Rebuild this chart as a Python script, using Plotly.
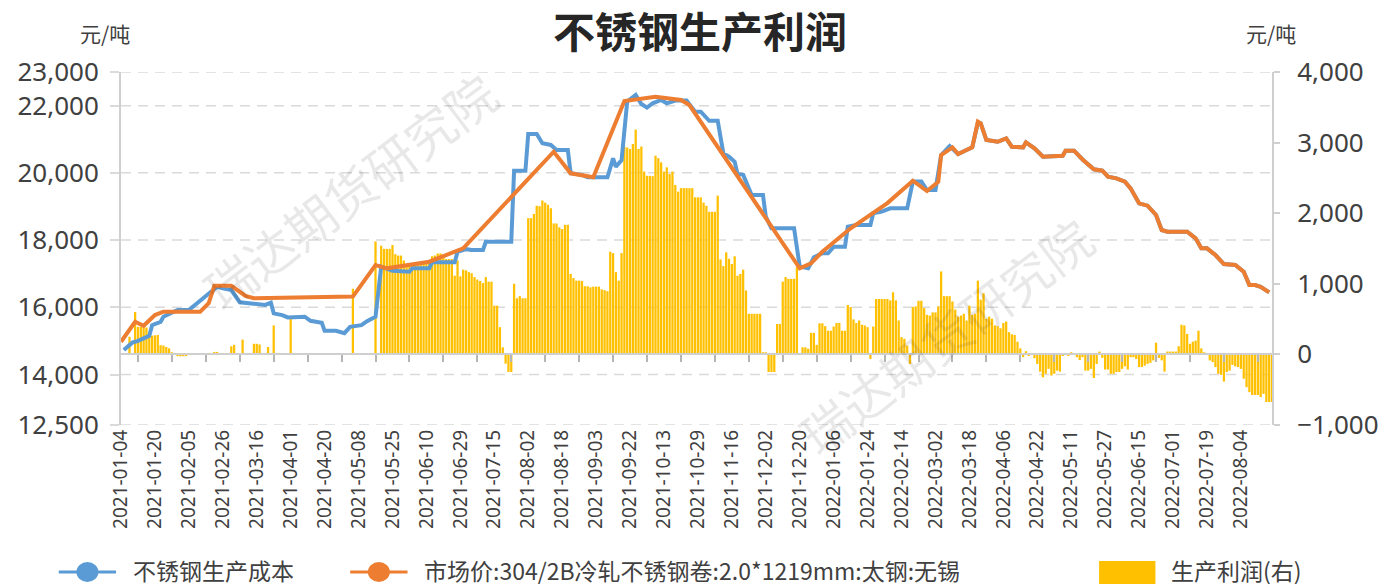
import plotly.graph_objects as go

# ---------------- data ----------------
N_CAT = 408  # trading-day categories, 2021-01-04 .. 2022-08
tick_labels = [
    "2021-01-04", "2021-01-20", "2021-02-05", "2021-02-26", "2021-03-16", "2021-04-01",
    "2021-04-20", "2021-05-08", "2021-05-25", "2021-06-10", "2021-06-29", "2021-07-15",
    "2021-08-02", "2021-08-18", "2021-09-03", "2021-09-22", "2021-10-13", "2021-10-29",
    "2021-11-16", "2021-12-02", "2021-12-20", "2022-01-06", "2022-01-24", "2022-02-14",
    "2022-03-02", "2022-03-18", "2022-04-06", "2022-04-22", "2022-05-11", "2022-05-27",
    "2022-06-15", "2022-07-01", "2022-07-19", "2022-08-04",
]
LABEL_STEP = 12

# 不锈钢生产成本 (category index, value)
cost_idx = [1, 4, 6, 8, 10, 11, 14, 15, 18, 20, 24, 34, 36, 39, 42, 47, 49, 51, 53, 54,
            57, 59, 65, 67, 71, 72, 76, 79, 81, 85, 87, 90, 92, 94, 96, 102, 103, 109, 110, 118,
            119, 122, 124, 128, 129, 138, 139, 143, 144, 147, 149, 152, 154, 158, 159, 163, 165, 172, 174, 175,
            177, 179, 182, 184, 186, 188, 191, 193, 196, 200, 203, 205, 208, 211, 213, 215, 217, 218, 220, 223,
            227, 228, 230, 238, 240, 243, 245, 248, 250, 252, 256, 257, 260, 265, 266, 269, 272, 278, 280, 283,
            285, 288, 290, 293, 296, 299, 301, 303, 304, 306, 310, 313, 315, 319, 320, 323, 326, 333, 334, 337,
            340, 344, 347, 349, 352, 355, 357, 360, 363, 366, 368, 370, 377, 380, 382, 384, 387, 390, 394, 397,
            399, 401, 403, 406]
cost_val = [14730, 14950, 15000, 15080, 15150, 15470, 15570, 15720, 15850, 15920, 15920, 16610, 16565, 16515, 16150, 16100, 16070, 16070, 16140, 15820,
            15770, 15700, 15720, 15600, 15540, 15300, 15300, 15230, 15420, 15470, 15590, 15720, 17210, 17160, 17090, 17060, 17160, 17160, 17340, 17340,
            17650, 17730, 17705, 17705, 17950, 17950, 20060, 20060, 21160, 21160, 20880, 20830, 20680, 20680, 19990, 19940, 19870, 19870, 20430, 20180,
            20380, 22120, 22320, 22050, 21940, 22070, 22170, 22070, 22150, 22150, 21820, 21820, 21550, 21550, 20580, 20480, 20330, 19970, 19940, 19340,
            19340, 18700, 18350, 18350, 17210, 17160, 17490, 17610, 17610, 17800, 17800, 18400, 18450, 18450, 18800, 18845, 18945, 18945, 19740, 19740,
            19490, 19490, 20530, 20800, 20560, 20680, 20760, 21500, 21474, 20977, 20926, 21027, 20778, 20760, 20909, 20730, 20480, 20510, 20659, 20659,
            20400, 20105, 20064, 19885, 19838, 19737, 19540, 19094, 19024, 18746, 18300, 18249, 18249, 18052, 17755, 17755, 17556, 17288, 17258, 17060,
            16663, 16663, 16613, 16446]

# 市场价:304/2B冷轧不锈钢卷:2.0*1219mm:太钢:无锡 (category index, value)
price_idx = [0, 5, 8, 12, 15, 28, 31, 33, 39, 44, 47, 82, 90, 94, 109, 121, 153, 159, 167, 178,
             189, 198, 201, 240, 244, 248, 258, 266, 271, 280, 285, 289, 290, 294, 296, 299, 301, 303, 304, 306,
             310, 313, 315, 319, 320, 323, 326, 333, 334, 337, 340, 344, 347, 349, 352, 355, 357, 360, 363, 366,
             368, 370, 377, 380, 382, 384, 387, 390, 394, 397, 399, 401, 403, 406]
price_val = [14976, 15570, 15450, 15770, 15870, 15870, 16120, 16640, 16640, 16340, 16270, 16320, 17260, 17160, 17357, 17755, 20630, 19986, 19867, 22137,
             22265, 22167, 22018, 17160, 17309, 17654, 18350, 18796, 19100, 19766, 19460, 19737, 20531, 20760, 20560, 20680, 20760, 21522, 21474, 20977,
             20926, 21027, 20778, 20760, 20909, 20730, 20480, 20510, 20659, 20659, 20400, 20105, 20064, 19885, 19838, 19737, 19540, 19094, 19024, 18746,
             18300, 18249, 18249, 18052, 17755, 17755, 17556, 17288, 17258, 17060, 16663, 16663, 16613, 16446]

# 生产利润(右): {first category index: consecutive values}
profit_segments = {
    0: [None, None, None, 250, None, 600, 390, 390, 385, 380, 270, 265, 270, 275, 130, 125, 105, 85,
        30, None, -25, -28, -25, -20],
    33: [35, 35, 15],
    39: [115, 135],
    43: [210],
    47: [150, 150, 140],
    52: [105],
    54: [410],
    60: [530],
    82: [930],
    90: [1600],
    92: [1540, 1495, 1495, 1495, 1550, 1420, 1400, 1400],
    100: [1330, 1280, 1280, 1270, 1280, 1280, 1290, 1290, 1300, 1320,
          1390, 1400, 1430, 1430, 1400, 1350, 1350, 1350, 1115, 1330,
          1105, 1200, 1190, 1165, 1150, 1095, 1060, 1040, 1010, 1095,
          1030, 1030, 690, 690, 385, 100, -130, -250, -250, 1000,
          795, 825, 795, 795, 1930, 1930, 1990, 2105, 2100, 2180,
          2150, 2120, 2070, 1855, 1855, 1800, 1775, 1835, 1835, 1140,
          1080, 1045, 1045, 1040, 965, 965, 950, 960, 960, 960,
          920, 910, 895, 1455, 1435, 1165, 1045, 1435, 2945, 2930,
          2910, 2980, 3185, 2910, 2945, 2590, 2530, 2530, 2525, 2815,
          2780, 2720, 2590, 2650, 2555, 2590, 2400, 2305, 2355, 2355],
    200: [2355, 2355, 2355, 2225, 2225, 2225, 2150, 2105, 2020, 2020,
          2020, 2250, 1345, 1250, 1445, 1355, 1280, 1390, 1115, 1140,
          1200, 905, 575, 575, 575, 575, 575, 30, 30, -250,
          -250, -250, 430, 430, 1030, 1095, 1070, 1070, 1070, 1235,
          None, 100, 100, 80, 305, 305, 135, 440, 440, 400,
          335, 335, 395, 445, 445, 335, 335, 700, 670, 495,
          445, 480, 420, 410, 385, -65, 395, 785, 785, 785,
          785, 785, 765, 880, 765, 480, 245, 220, 125, -135,
          670, 680, 760, 760, 655, 560, 550, 595, 595, 680,
          1175, 825, 825, 825, 750, 635, 535, 550, 575, 480],
    300: [690, 560, 575, 1045, 775, 865, 505, 535, 505, 410,
          400, 370, 445, 465, 315, 285, 275, 180, 85, -40,
          45, -15, None, -55, -135, -245, -325, -275, -205, -300,
          -275, -230, -245, -15, 15, -15, 30, 20, -40, -80,
          -40, -230, -230, -205, -335, -135, 40, -50, -215, -215,
          -275, -275, -250, -250, -205, -170, -215, -40, -40, -65,
          -180, -180, -160, -135, -120, -85, 165, -50, -85, -245,
          40, 40, 40, 40, 115, 420, 410, 290, 150, 180,
          195, 335, 85, 30, 10, -85, -110, -180, -275, -290,
          -385, -250, -230, -150, -170, -180, -205, -345, -465, -535],
    400: [-575, -575, -575, -605, -560, -675, -675, -675],
}

left_ticks = [12500, 14000, 16000, 18000, 20000, 22000, 23000]
right_ticks = [-1000, 0, 1000, 2000, 3000, 4000]
LEFT_RANGE = [12499, 23001]
RIGHT_RANGE = [-1000 - 1 * 5000 / 10500, 4000 + 1 * 5000 / 10500]

# ---------------- build ----------------
profit = [None] * N_CAT
for start, vals in profit_segments.items():
    for k, v in enumerate(vals):
        if start + k < N_CAT:
            profit[start + k] = v

categories = list(range(N_CAT))
label_pos = [k * LABEL_STEP for k in range(len(tick_labels))]
minor_pos = [k * LABEL_STEP + LABEL_STEP // 2 for k in range(len(tick_labels))]


def left_to_right(v):
    return RIGHT_RANGE[0] + (v - LEFT_RANGE[0]) * (RIGHT_RANGE[1] - RIGHT_RANGE[0]) / (LEFT_RANGE[1] - LEFT_RANGE[0])


BLUE = "#5b9bd5"
ORANGE = "#ed7d31"
YELLOW = "#ffc000"
CJK = "Noto Sans CJK SC"
TXT = "#404040"

fig = go.Figure()
fig.add_trace(go.Bar(x=categories, y=profit, marker=dict(color=YELLOW, line=dict(width=0)),
                     xaxis="x", yaxis="y", showlegend=False, hoverinfo="skip"))
fig.add_trace(go.Scatter(x=[None], y=[None], xaxis="x2", yaxis="y", showlegend=False, hoverinfo="skip"))
fig.add_trace(go.Scatter(x=cost_idx, y=cost_val, mode="lines", line=dict(color=BLUE, width=4),
                         xaxis="x", yaxis="y2", showlegend=False, connectgaps=True))
fig.add_trace(go.Scatter(x=price_idx, y=price_val, mode="lines", line=dict(color=ORANGE, width=4),
                         xaxis="x", yaxis="y2", showlegend=False, connectgaps=True))

PL, PR, PT, PB = 121, 1286, 72, 425
def px(x):
    return (x - PL) / (PR - PL)
def py(y):
    return (PB - y) / (PB - PT)

xr = [0, N_CAT - 1]
fig.update_layout(
    width=1391, height=586,
    margin=dict(l=PL, r=1391 - PR, t=PT, b=586 - PB),
    paper_bgcolor="white", plot_bgcolor="white",
    bargap=0.2,
    title=dict(text="<b>不锈钢生产利润</b>", x=700 / 1391, xanchor="center", y=1 - 33 / 586, yanchor="middle",
               font=dict(family=CJK, size=42, color="#262626")),
    xaxis=dict(range=xr, tickmode="array", tickvals=label_pos, ticktext=tick_labels, tickangle=-90,
               showgrid=False, zeroline=False, showline=False, ticks="",
               tickfont=dict(family="Noto Sans", size=19, color=TXT)),
    xaxis2=dict(range=xr, overlaying="x", anchor="free", position=0.2, side="bottom",
                tickmode="array", tickvals=minor_pos, ticks="outside", ticklen=7, tickwidth=2,
                tickcolor="#b5b5b5", showticklabels=False, showgrid=False, zeroline=False,
                showline=True, linecolor="#cfcfcf", linewidth=2),
    yaxis=dict(range=RIGHT_RANGE, side="right", tickmode="array", tickvals=right_ticks, tickformat=",",
               showgrid=False, zeroline=False, showline=True, linecolor="#cfcfcf", linewidth=2,
               ticks="outside", ticklen=6, tickwidth=2, tickcolor="#cfcfcf", ticklabelstandoff=12,
               tickfont=dict(family="Noto Sans", size=26, color=TXT)),
    yaxis2=dict(range=LEFT_RANGE, overlaying="y", side="left", tickmode="array", tickvals=left_ticks,
                tickformat=",", showgrid=False,
                zeroline=False, showline=True, linecolor="#cfcfcf", linewidth=2,
                ticks="outside", ticklen=9, tickwidth=1.5, tickcolor="#dadada", ticklabelstandoff=6,
                tickfont=dict(family="Noto Sans", size=26, color=TXT)),
)

# dashed split lines at the left-axis ticks, drawn beneath the bars
for v in left_ticks:
    yv = left_to_right(v)
    fig.add_shape(type="line", xref="paper", yref="y", x0=0, x1=1, y0=yv, y1=yv, layer="below",
                  line=dict(color="#dadada", width=1.5, dash="10px,7px"))

# watermarks
for cx, cy in [(352, 190), (955, 335)]:
    fig.add_annotation(text="瑞达期货研究院", xref="paper", yref="paper", x=px(cx), y=py(cy),
                       xanchor="center", yanchor="middle", showarrow=False, textangle=-37,
                       font=dict(family=CJK, size=50, color="rgba(0,0,0,0.09)"))

# unit labels
for cx in (105, 1285):
    fig.add_annotation(text="元/吨", xref="paper", yref="paper", x=px(cx), y=py(33),
                       xanchor="center", yanchor="middle", showarrow=False,
                       font=dict(family=CJK, size=21, color=TXT))

# legend (drawn)
LY = 570
legend_items = [
    ("line", BLUE, 58, 116, "不锈钢生产成本", 131),
    ("line", ORANGE, 353, 411, "市场价:304/2B冷轧不锈钢卷:2.0*1219mm:太钢:无锡", 426),
    ("rect", YELLOW, 1111, 1168, "生产利润(右)", 1182),
]
for kind, col, x0, x1, label, tx in legend_items:
    if kind == "line":
        fig.add_shape(type="line", xref="paper", yref="paper", x0=px(x0), x1=px(x1), y0=py(572), y1=py(572),
                      line=dict(color=col, width=3))
        fig.add_shape(type="circle", xref="paper", yref="paper", xsizemode="pixel", ysizemode="pixel",
                      xanchor=px((x0 + x1) / 2), yanchor=py(572), x0=-11, x1=11, y0=-10, y1=10,
                      fillcolor=col, line=dict(width=0))
    else:
        fig.add_shape(type="rect", xref="paper", yref="paper", x0=px(x0), x1=px(x1), y0=py(584), y1=py(561),
                      fillcolor=col, line=dict(width=0))
    fig.add_annotation(text=label, xref="paper", yref="paper", x=px(tx), y=py(LY), xanchor="left",
                       yanchor="middle", showarrow=False, font=dict(family=CJK, size=23, color=TXT))

fig.write_html("out.html", config={"displayModeBar": False},
               post_script="document.body.style.margin='0px';document.body.style.overflow='hidden';")
